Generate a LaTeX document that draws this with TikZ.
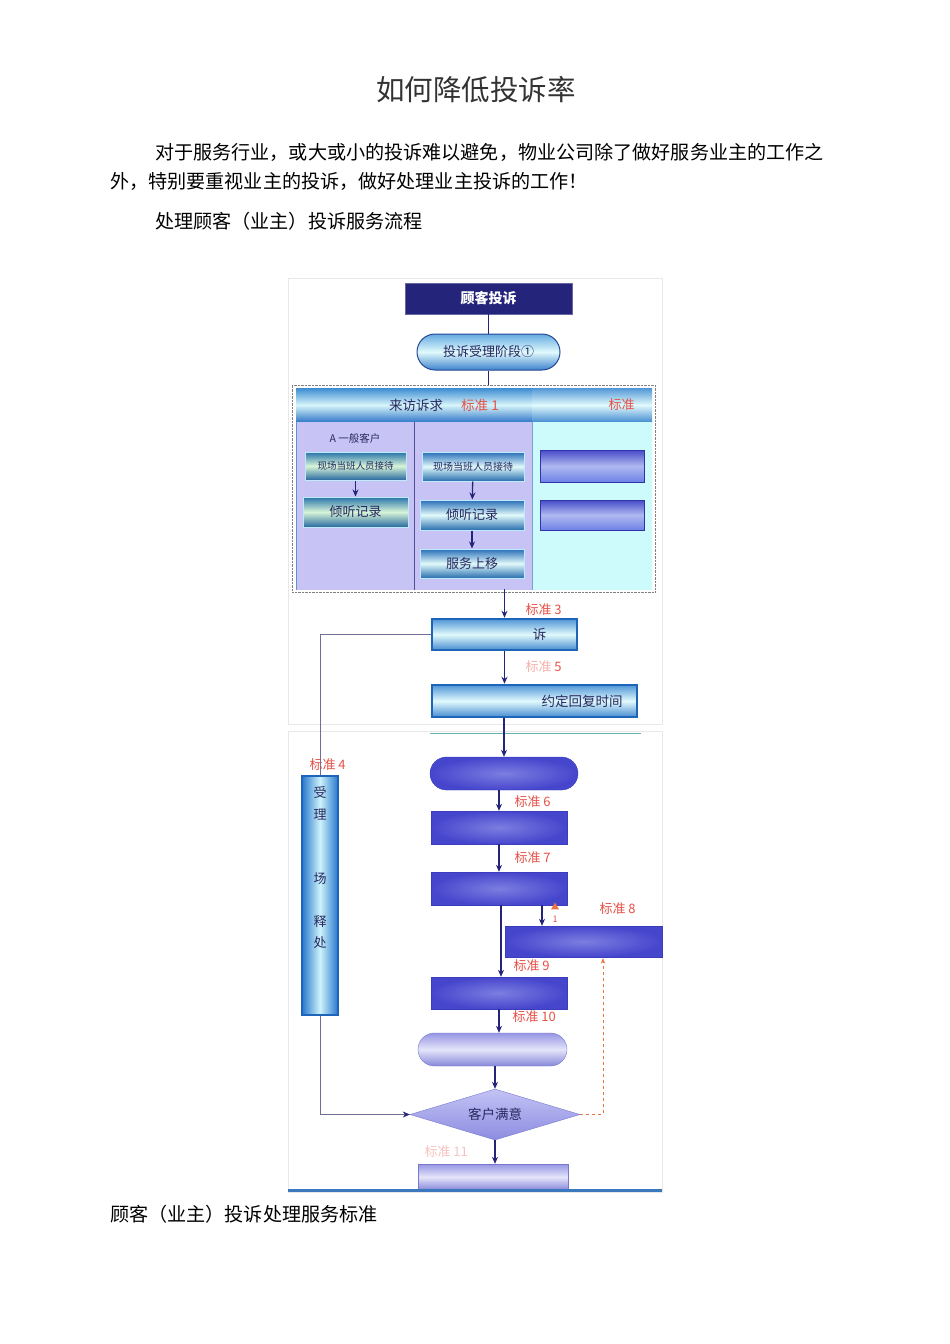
\documentclass[tikz,border=0pt]{standalone}
\usepackage{fontspec}
\setmainfont{Noto Sans CJK SC}
\usepackage{xcolor}
\usetikzlibrary{arrows.meta,positioning,shapes.geometric}
\definecolor{navy}{RGB}{36,36,122}
\definecolor{inkblue}{RGB}{40,40,95}
\definecolor{stdred}{RGB}{230,80,70}
\definecolor{linkgray}{RGB}{110,110,150}
\definecolor{edgeblue}{RGB}{30,100,185}
\definecolor{violet}{RGB}{70,70,205}
\definecolor{lavender}{RGB}{200,195,245}
\definecolor{icecyan}{RGB}{205,250,250}
\definecolor{retryorange}{RGB}{235,115,70}
\definecolor{ruleblue}{RGB}{60,120,190}
\definecolor{skyA}{RGB}{80,150,215}
\definecolor{skyB}{RGB}{70,140,210}
\definecolor{skyC}{RGB}{225,250,252}
\definecolor{greenA}{RGB}{40,115,170}
\definecolor{greenB}{RGB}{40,105,160}
\definecolor{greenC}{RGB}{215,245,215}
\definecolor{tealA}{RGB}{40,110,185}
\definecolor{tealB}{RGB}{40,110,175}
\definecolor{tealC}{RGB}{225,250,250}
\definecolor{bluA}{RGB}{70,75,200}
\definecolor{bluB}{RGB}{110,130,230}
\definecolor{bluC}{RGB}{175,185,240}
\definecolor{bluEdge}{RGB}{50,50,170}
\definecolor{darkEdge}{RGB}{60,60,190}
\definecolor{darkIn}{RGB}{125,125,225}
\definecolor{lilA}{RGB}{150,150,228}
\definecolor{lilB}{RGB}{135,135,218}
\definecolor{lilC}{RGB}{228,228,250}
\definecolor{lilEdge}{RGB}{120,120,205}
\definecolor{diaA}{RGB}{195,195,245}
\definecolor{diaB}{RGB}{140,140,225}
\definecolor{pillEdge}{RGB}{40,70,150}
\definecolor{pillA}{RGB}{100,170,225}
\definecolor{pillB}{RGB}{60,130,205}
\definecolor{headA}{RGB}{60,140,210}
\definecolor{headB}{RGB}{50,120,200}
\definecolor{headC}{RGB}{215,245,250}
\definecolor{colBlue}{RGB}{40,120,205}
\definecolor{colPale}{RGB}{205,242,250}
\newcommand{\fsz}[1]{\fontsize{#1}{#1}\selectfont}

\begin{document}
\begin{tikzpicture}[
  x=1pt, y=-1pt,
  >={Stealth[length=7pt,width=6pt]},
  std/.style={anchor=west, text=stdred, font=\fsz{13}},
  flow/.style={->, navy, line width=1.3pt},
  link/.style={linkgray, semithick},
  plain/.style={rectangle, inner sep=0pt, text=inkblue},
  cyanbox/.style={plain, draw=edgeblue, line width=2.5pt,
    top color=skyA, bottom color=skyB, middle color=skyC, font=\fsz{13.5}},
  greenbox/.style={plain, draw=cyan!25, line width=1pt,
    top color=greenA, bottom color=greenB, middle color=greenC},
  tealbox/.style={plain, draw=cyan!25, line width=1pt,
    top color=tealA, bottom color=tealB, middle color=tealC},
  bluebox/.style={plain, draw=bluEdge, line width=1pt,
    top color=bluA, bottom color=bluB, middle color=bluC},
  darkbox/.style={plain, draw=darkEdge, inner color=darkIn, outer color=violet},
  lilacbox/.style={plain, draw=lilEdge, top color=lilA, bottom color=lilB, middle color=lilC},
]
\useasboundingbox (0,0) rectangle (950,1344);

% === Page text ===
\node[font=\fsz{28.5}, text=black!80] (title) at (476,90) {如何降低投诉率};
\node[anchor=west, font=\fsz{19.1}, inner sep=0pt] (para1) at (155,152)
  {对于服务行业，或大或小的投诉难以避免，物业公司除了做好服务业主的工作之};
\node[anchor=west, font=\fsz{19.1}, inner sep=0pt] (para2) at (110,181)
  {外，特别要重视业主的投诉，做好处理业主投诉的工作！};
\node[anchor=west, font=\fsz{19.1}, inner sep=0pt] (flowtitle) at (155,221)
  {处理顾客（业主）投诉服务流程};
\node[anchor=west, font=\fsz{19.1}, inner sep=0pt] (caption) at (110,1214)
  {顾客（业主）投诉处理服务标准};

% image frames
\draw[gray!18] (288,278) rectangle (662,724);
\draw[gray!18] (288,731) rectangle (662,1192);
\draw[teal!60] (430,733) -- (641,733);

% === Upper part: receiving the complaint ===
\node[plain, fill=navy, draw=navy!70, text=white, font=\bfseries\fsz{14},
      minimum width=167pt, minimum height=31pt] (cust) at (488.5,298.5) {顾客投诉};
\node[plain, draw=pillEdge, line width=1pt, rounded corners=18pt,
      top color=pillA, bottom color=pillB, middle color=skyC, font=\fsz{13},
      minimum width=143pt, minimum height=36pt] (stage) at (488.5,352) {投诉受理阶段①};

\node[draw=gray, densely dotted, minimum width=363pt, minimum height=207pt,
      inner sep=0pt] (panel) at (473.5,488.5) {};

% header bar
\node[plain, minimum width=236pt, minimum height=34pt,
      top color=headA, bottom color=headB, middle color=headC] (headL) at (414,405) {};
\node[plain, minimum width=120pt, minimum height=34pt,
      top color=skyA, bottom color=skyB, middle color=skyC] (headR) at (592,405) {};
\node[text=inkblue, font=\fsz{13.5}] (headtext) at (444,405)
  {来访诉求\hspace{18pt}\textcolor{stdred}{标准 1}};
\node[std] (std2) at (605,405) {标准};

% columns
\node[plain, fill=lavender, minimum width=118pt, minimum height=168pt] (colA) at (355,506) {};
\node[plain, fill=lavender, minimum width=118pt, minimum height=168pt] (colB) at (473,506) {};
\node[plain, fill=icecyan, minimum width=120pt, minimum height=168pt] (colC) at (592,506) {};
\draw[navy!80, semithick] (colA.north east) -- (colA.south east);
\draw[edgeblue!60] (colB.north east) -- (colB.south east);
\draw[edgeblue!70] (colA.north west) -- (colA.south west);

\node[text=inkblue, font=\fsz{10.5}] (labelA) at (355,438) {A 一般客户};
\node[greenbox, font=\fsz{9.5}, minimum width=101pt, minimum height=28pt] (a1) at (355.5,466) {现场当班人员接待};
\node[greenbox, font=\fsz{13}, minimum width=105pt, minimum height=30pt] (a2) at (355.5,512) {倾听记录};
\draw[flow] (a1) -- (a2);

\node[tealbox, font=\fsz{10}, minimum width=102pt, minimum height=29pt] (b1) at (473,466.5) {现场当班人员接待};
\node[tealbox, font=\fsz{13}, minimum width=104pt, minimum height=30pt] (b2) at (472,515) {倾听记录};
\node[tealbox, font=\fsz{13}, minimum width=104pt, minimum height=29pt] (b3) at (472,563.5) {服务上移};
\draw[flow] (b1) -- (b2);
\draw[flow] (b2) -- (b3);

\node[bluebox, minimum width=104pt, minimum height=32pt] (c1) at (592,466) {};
\node[bluebox, minimum width=104pt, minimum height=30pt] (c2) at (592,515) {};

\draw[navy, line width=1.3pt] (cust) -- (stage);
\draw[navy, line width=1.3pt] (stage) -- (stage.south |- panel.north);

% === Registration and reply time ===
\node[cyanbox, minimum width=145pt, minimum height=31pt] (register) at (504.5,634.5) {\hspace{70pt}诉};
\node[cyanbox, minimum width=205pt, minimum height=32pt] (promise) at (534.5,701) {\hspace{95pt}约定回复时间};
\node[std] (std3) at (522,610) {标准 3};
\node[std] (std5) at (522,667) {\textcolor{stdred!45}{标准} 5};
\draw[flow] ([yshift=3pt]register.north |- panel.south) -- (register.north);
\draw[flow] (register) -- (register.south |- promise.north);

% === Lower part: handling ===
\node[darkbox, rounded corners=16.5pt, minimum width=148pt, minimum height=33pt] (reply) at (504,773.5) {};
\node[darkbox, minimum width=136pt, minimum height=33pt] (survey) at (499,827.5) {};
\node[darkbox, minimum width=136pt, minimum height=33pt] (handle) at (499,888.5) {};
\node[darkbox, minimum width=157pt, minimum height=31pt] (fix) at (583.5,941.5) {};
\node[darkbox, minimum width=136pt, minimum height=32pt] (check) at (499,993) {};
\node[lilacbox, rounded corners=16.5pt, minimum width=149pt, minimum height=33pt] (revisit) at (492.5,1049.5) {};
\node[diamond, aspect=3.33, inner sep=0pt, minimum width=170pt, minimum height=51pt,
      draw=lilEdge, text=inkblue, font=\fsz{13.5}, top color=diaA, bottom color=diaB]
      (sat) at (495,1114.5) {客户满意};
\node[lilacbox, minimum width=150pt, minimum height=26pt] (close) at (493,1177) {};

\node[std] (std6) at (511,802) {标准 6};
\node[std] (std7) at (511,858) {标准 7};
\node[std] (std8) at (596,909) {标准 8};
\node[std] (std9) at (510,966) {标准 9};
\node[std] (std10) at (509,1017) {标准 10};
\node[std, text=stdred!35] (std11) at (421,1152) {标准 11};
\node[regular polygon, regular polygon sides=3, fill=retryorange, inner sep=1.6pt] (tri) at (555,907) {};
\node[text=stdred, font=\fsz{9}] (one) at (555,919) {1};

\draw[flow] (promise.south -| reply.north) -- (reply.north);
\draw[flow] (reply.south -| survey.north) -- (survey.north);
\draw[flow] (survey) -- (handle);
\draw[flow] ([xshift=43pt]handle.south) -- ([xshift=43pt]handle.south |- fix.north);
\draw[flow] ([xshift=2pt]handle.south) -- ([xshift=2pt]check.north);
\draw[flow] (check.south) -- (check.south |- revisit.north);
\draw[flow] (revisit.south -| sat.north) -- (sat.north);
\draw[flow] (sat) -- (sat.south |- close.north);

% === On-site handling column ===
\node[plain, draw=edgeblue, line width=2pt, minimum width=36pt, minimum height=239pt,
      left color=colBlue, right color=colBlue, middle color=colPale] (accept) at (320,895.5) {};
\node[text=inkblue, font=\fsz{13}, align=center, inner sep=0pt] (accepttext) at (320,878.5)
  {受\\[8.4pt]理\\[8.4pt]\phantom{受}\\[8.4pt]\phantom{受}\\[8.4pt]场\\[8.4pt]\phantom{受}\\[8.4pt]释\\[8.4pt]处\\[8.4pt]\phantom{受}};
\node[std] (std4) at (306,765) {标准 4};

\draw[link] (register.west) -| (accept.north);
\draw[link, -{Stealth[navy,length=7pt,width=6pt]}] (accept.south) |- (sat.west);

% retry loop
\coordinate (fixtip) at (603,958);
\draw[retryorange, dashed, semithick, -{Stealth[retryorange]}] (sat.east) -| (fixtip);

% bottom rule
\draw[ruleblue, line width=3pt] (288,1190) -- (662,1190);

\end{tikzpicture}
\end{document}
